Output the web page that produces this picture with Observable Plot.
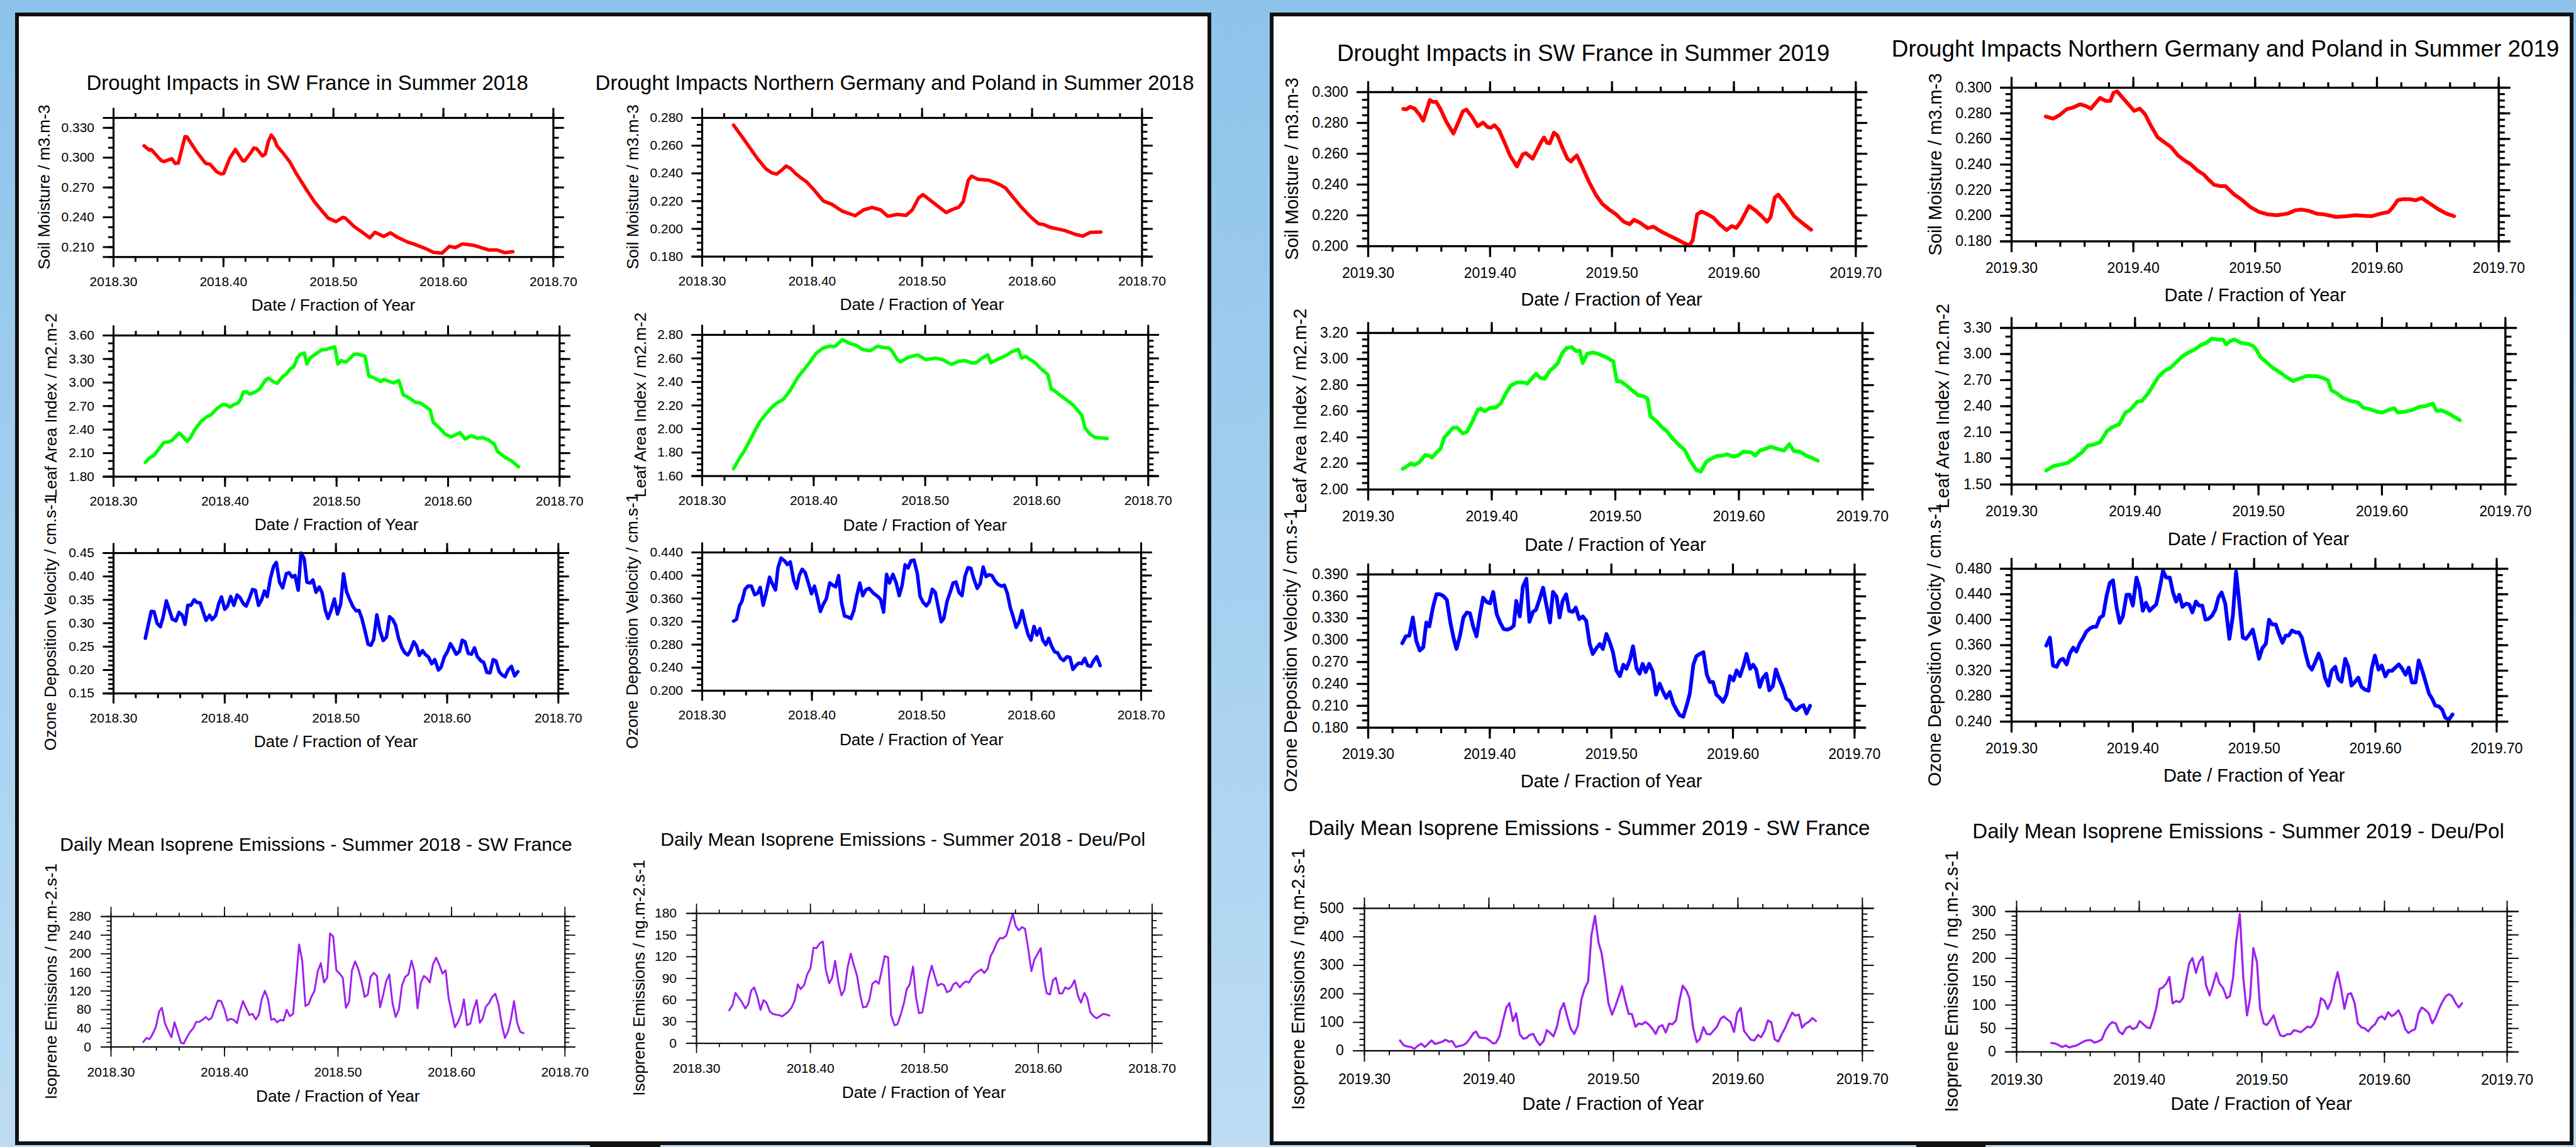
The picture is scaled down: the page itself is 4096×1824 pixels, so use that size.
<!DOCTYPE html>
<html><head><meta charset="utf-8">
<script src="https://cdn.jsdelivr.net/npm/d3@7"></script>
<script src="https://cdn.jsdelivr.net/npm/@observablehq/plot@0.6"></script>
<style>
html,body{margin:0;padding:0;}
body{width:4096px;height:1824px;position:relative;overflow:hidden;background:linear-gradient(#8dc3ea,#bddcf4);font-family:"Liberation Sans",Arial,sans-serif;}
.box{position:absolute;box-sizing:border-box;background:#fff;border:6.6px solid #111;}
.bar{position:absolute;background:#111;}
#overlay{position:absolute;left:0;top:0;}
</style></head><body>
<div id="root"></div>
<script>
// ---------------- DATA (fraction of year, value) ----------------
const soilFrance2018 = [[0.3278,0.3119],[0.3325,0.3076],[0.3343,0.3082],[0.3434,0.2970],[0.3459,0.2961],[0.3531,0.2989],[0.3560,0.2942],[0.3589,0.2946],[0.3650,0.3212],[0.3668,0.3209],[0.3759,0.3054],[0.3838,0.2942],[0.3878,0.2933],[0.3939,0.2858],[0.3976,0.2836],[0.4001,0.2840],[0.4059,0.2998],[0.4109,0.3082],[0.4174,0.2970],[0.4192,0.2967],[0.4239,0.3035],[0.4276,0.3097],[0.4301,0.3091],[0.4355,0.3017],[0.4380,0.3035],[0.4409,0.3166],[0.4434,0.3227],[0.4463,0.3185],[0.4488,0.3116],[0.4536,0.3054],[0.4601,0.2961],[0.4662,0.2840],[0.4752,0.2682],[0.4825,0.2560],[0.4879,0.2486],[0.4951,0.2393],[0.5023,0.2356],[0.5085,0.2399],[0.5107,0.2393],[0.5186,0.2309],[0.5258,0.2253],[0.5331,0.2193],[0.5378,0.2249],[0.5457,0.2207],[0.5519,0.2244],[0.5584,0.2197],[0.5674,0.2151],[0.5729,0.2132],[0.5837,0.2085],[0.5909,0.2048],[0.5988,0.2039],[0.6054,0.2108],[0.6108,0.2095],[0.6173,0.2132],[0.6271,0.2119],[0.6415,0.2071],[0.6487,0.2071],[0.6559,0.2044],[0.6632,0.2054]];
const soilGermany2018 = [[0.3285,0.2748],[0.3351,0.2677],[0.3428,0.2591],[0.3505,0.2504],[0.3582,0.2431],[0.3632,0.2404],[0.3678,0.2395],[0.3724,0.2424],[0.3763,0.2453],[0.3802,0.2437],[0.3852,0.2397],[0.3909,0.2361],[0.3948,0.2340],[0.4006,0.2291],[0.4102,0.2201],[0.4179,0.2177],[0.4276,0.2127],[0.4391,0.2095],[0.4468,0.2137],[0.4545,0.2155],[0.4622,0.2137],[0.4688,0.2091],[0.4776,0.2104],[0.4854,0.2097],[0.4911,0.2137],[0.4969,0.2224],[0.5008,0.2247],[0.5066,0.2211],[0.5143,0.2164],[0.5220,0.2117],[0.5266,0.2137],[0.5335,0.2157],[0.5374,0.2197],[0.5420,0.2351],[0.5451,0.2380],[0.5509,0.2357],[0.5605,0.2351],[0.5701,0.2321],[0.5759,0.2295],[0.5894,0.2164],[0.5990,0.2084],[0.6060,0.2037],[0.6106,0.2031],[0.6164,0.2011],[0.6299,0.1988],[0.6395,0.1960],[0.6461,0.1948],[0.6530,0.1975],[0.6626,0.1977]];
const laiFrance2018 = [[0.3285,1.981],[0.3321,2.038],[0.3363,2.072],[0.3410,2.159],[0.3452,2.237],[0.3488,2.241],[0.3524,2.261],[0.3552,2.306],[0.3588,2.356],[0.3616,2.322],[0.3659,2.251],[0.3687,2.291],[0.3730,2.403],[0.3784,2.504],[0.3837,2.565],[0.3873,2.586],[0.3926,2.667],[0.3980,2.723],[0.4008,2.717],[0.4044,2.687],[0.4086,2.723],[0.4115,2.738],[0.4140,2.788],[0.4165,2.880],[0.4193,2.880],[0.4222,2.853],[0.4265,2.876],[0.4307,2.914],[0.4364,3.032],[0.4389,3.056],[0.4443,3.001],[0.4468,2.991],[0.4514,3.072],[0.4549,3.109],[0.4585,3.174],[0.4614,3.198],[0.4649,3.316],[0.4674,3.357],[0.4710,3.377],[0.4735,3.235],[0.4763,3.316],[0.4817,3.367],[0.4863,3.413],[0.4906,3.421],[0.4948,3.442],[0.4984,3.454],[0.5012,3.235],[0.5041,3.281],[0.5084,3.261],[0.5119,3.306],[0.5155,3.361],[0.5191,3.363],[0.5255,3.336],[0.5290,3.083],[0.5333,3.062],[0.5397,3.012],[0.5422,3.040],[0.5458,3.022],[0.5511,2.995],[0.5558,3.026],[0.5600,2.839],[0.5636,2.819],[0.5707,2.748],[0.5753,2.738],[0.5796,2.697],[0.5839,2.650],[0.5867,2.494],[0.5921,2.423],[0.5974,2.342],[0.6028,2.306],[0.6064,2.332],[0.6106,2.362],[0.6153,2.281],[0.6206,2.322],[0.6260,2.291],[0.6313,2.297],[0.6359,2.271],[0.6413,2.216],[0.6445,2.119],[0.6509,2.048],[0.6562,2.007],[0.6633,1.926]];
const laiGermany2018 = [[0.3281,1.662],[0.3334,1.751],[0.3372,1.805],[0.3441,1.927],[0.3517,2.062],[0.3562,2.116],[0.3623,2.184],[0.3669,2.219],[0.3726,2.251],[0.3783,2.319],[0.3858,2.440],[0.3916,2.508],[0.3972,2.576],[0.4022,2.643],[0.4086,2.689],[0.4143,2.703],[0.4193,2.703],[0.4257,2.759],[0.4333,2.724],[0.4383,2.711],[0.4436,2.676],[0.4504,2.665],[0.4573,2.703],[0.4626,2.692],[0.4675,2.689],[0.4702,2.662],[0.4751,2.589],[0.4778,2.570],[0.4846,2.608],[0.4930,2.630],[0.5006,2.589],[0.5093,2.603],[0.5158,2.589],[0.5234,2.549],[0.5302,2.576],[0.5359,2.581],[0.5416,2.562],[0.5454,2.562],[0.5511,2.603],[0.5561,2.630],[0.5587,2.562],[0.5644,2.589],[0.5720,2.622],[0.5777,2.657],[0.5834,2.676],[0.5864,2.603],[0.5902,2.616],[0.5986,2.562],[0.6043,2.508],[0.6100,2.462],[0.6131,2.338],[0.6157,2.327],[0.6214,2.284],[0.6328,2.203],[0.6404,2.116],[0.6434,2.008],[0.6480,1.954],[0.6525,1.927],[0.6632,1.919]];
const ozoneFrance2018 = [[0.3286,0.2678],[0.3339,0.3254],[0.3364,0.3248],[0.3393,0.2993],[0.3421,0.2925],[0.3446,0.3129],[0.3475,0.3478],[0.3500,0.3299],[0.3529,0.3085],[0.3561,0.3051],[0.3589,0.3231],[0.3618,0.3173],[0.3643,0.2976],[0.3668,0.3383],[0.3696,0.3383],[0.3725,0.3502],[0.3750,0.3444],[0.3779,0.3434],[0.3832,0.3061],[0.3864,0.3173],[0.3886,0.3078],[0.3918,0.3163],[0.3946,0.3417],[0.3971,0.3563],[0.4000,0.3299],[0.4025,0.3366],[0.4054,0.3570],[0.4082,0.3383],[0.4111,0.3604],[0.4136,0.3553],[0.4168,0.3417],[0.4193,0.3366],[0.4225,0.3553],[0.4250,0.3723],[0.4275,0.3706],[0.4304,0.3383],[0.4332,0.3502],[0.4357,0.3689],[0.4382,0.3570],[0.4411,0.3960],[0.4439,0.4215],[0.4464,0.4300],[0.4493,0.3876],[0.4521,0.3757],[0.4554,0.4062],[0.4579,0.4079],[0.4607,0.3987],[0.4632,0.4021],[0.4661,0.3706],[0.4686,0.4500],[0.4714,0.4385],[0.4739,0.3876],[0.4768,0.3859],[0.4793,0.3926],[0.4821,0.3662],[0.4850,0.3774],[0.4875,0.3655],[0.4904,0.3282],[0.4929,0.3105],[0.4957,0.3282],[0.4986,0.3519],[0.5014,0.3197],[0.5043,0.3417],[0.5068,0.4055],[0.5096,0.3672],[0.5125,0.3502],[0.5154,0.3349],[0.5182,0.3265],[0.5207,0.3275],[0.5232,0.3112],[0.5261,0.2840],[0.5289,0.2552],[0.5314,0.2528],[0.5339,0.2654],[0.5368,0.3180],[0.5396,0.2840],[0.5425,0.2630],[0.5454,0.2705],[0.5482,0.3139],[0.5511,0.3078],[0.5536,0.2959],[0.5564,0.2671],[0.5593,0.2474],[0.5621,0.2365],[0.5646,0.2324],[0.5671,0.2416],[0.5700,0.2603],[0.5725,0.2518],[0.5750,0.2314],[0.5779,0.2416],[0.5804,0.2331],[0.5832,0.2280],[0.5861,0.2134],[0.5889,0.2223],[0.5921,0.2001],[0.5946,0.2060],[0.5975,0.2280],[0.6004,0.2399],[0.6029,0.2562],[0.6054,0.2467],[0.6082,0.2338],[0.6111,0.2399],[0.6136,0.2637],[0.6161,0.2603],[0.6189,0.2358],[0.6218,0.2338],[0.6246,0.2474],[0.6271,0.2290],[0.6304,0.2195],[0.6329,0.2162],[0.6357,0.1951],[0.6386,0.1941],[0.6414,0.2223],[0.6439,0.2195],[0.6468,0.1965],[0.6496,0.1890],[0.6521,0.1856],[0.6550,0.2009],[0.6579,0.2077],[0.6607,0.1873],[0.6636,0.1965]];
const ozoneGermany2018 = [[0.3286,0.3208],[0.3313,0.3241],[0.3340,0.3473],[0.3363,0.3556],[0.3390,0.3760],[0.3417,0.3815],[0.3448,0.3815],[0.3479,0.3666],[0.3506,0.3694],[0.3529,0.3793],[0.3556,0.3484],[0.3583,0.3694],[0.3614,0.3970],[0.3641,0.3848],[0.3668,0.3749],[0.3691,0.4135],[0.3718,0.4301],[0.3749,0.4257],[0.3776,0.4190],[0.3803,0.4234],[0.3834,0.3915],[0.3861,0.3777],[0.3884,0.3997],[0.3911,0.4108],[0.3938,0.4052],[0.3969,0.3859],[0.3996,0.3683],[0.4023,0.3815],[0.4050,0.3611],[0.4077,0.3374],[0.4104,0.3501],[0.4131,0.3595],[0.4162,0.3870],[0.4189,0.3832],[0.4216,0.3804],[0.4243,0.3997],[0.4270,0.3528],[0.4297,0.3297],[0.4328,0.3280],[0.4355,0.3252],[0.4382,0.3390],[0.4409,0.3650],[0.4436,0.3870],[0.4463,0.3650],[0.4490,0.3749],[0.4521,0.3777],[0.4560,0.3694],[0.4598,0.3639],[0.4626,0.3584],[0.4653,0.3363],[0.4680,0.4021],[0.4707,0.3870],[0.4738,0.4021],[0.4768,0.3870],[0.4795,0.3650],[0.4822,0.3832],[0.4849,0.4186],[0.4876,0.4131],[0.4903,0.4257],[0.4930,0.4268],[0.4961,0.4025],[0.4985,0.3639],[0.5015,0.3528],[0.5042,0.3473],[0.5069,0.3539],[0.5097,0.3760],[0.5124,0.3705],[0.5151,0.3446],[0.5178,0.3197],[0.5201,0.3252],[0.5232,0.3556],[0.5259,0.3705],[0.5286,0.3870],[0.5313,0.3887],[0.5340,0.3705],[0.5367,0.3650],[0.5394,0.3981],[0.5421,0.4135],[0.5448,0.4124],[0.5475,0.3942],[0.5506,0.3777],[0.5533,0.3859],[0.5560,0.4146],[0.5587,0.3981],[0.5614,0.4014],[0.5641,0.3997],[0.5668,0.3904],[0.5695,0.3848],[0.5726,0.3815],[0.5753,0.3832],[0.5780,0.3694],[0.5807,0.3446],[0.5834,0.3280],[0.5861,0.3098],[0.5888,0.3197],[0.5915,0.3390],[0.5942,0.3170],[0.5969,0.2977],[0.5996,0.2877],[0.6023,0.3115],[0.6050,0.2966],[0.6077,0.3076],[0.6104,0.2877],[0.6131,0.2800],[0.6158,0.2910],[0.6185,0.2767],[0.6212,0.2673],[0.6239,0.2657],[0.6266,0.2563],[0.6293,0.2524],[0.6324,0.2590],[0.6351,0.2579],[0.6378,0.2370],[0.6405,0.2436],[0.6432,0.2480],[0.6459,0.2469],[0.6486,0.2563],[0.6513,0.2436],[0.6541,0.2425],[0.6568,0.2524],[0.6595,0.2590],[0.6626,0.2436]];
const isopreneFrance2018 = [[0.3284,10.4],[0.3312,19.2],[0.3340,16.6],[0.3368,28.0],[0.3396,43.6],[0.3424,76.2],[0.3448,84.0],[0.3476,50.3],[0.3504,34.7],[0.3532,20.7],[0.3560,52.9],[0.3588,31.1],[0.3616,8.8],[0.3641,7.3],[0.3669,20.7],[0.3697,32.1],[0.3725,39.9],[0.3750,53.9],[0.3778,53.9],[0.3806,58.1],[0.3834,64.3],[0.3862,58.1],[0.3886,62.2],[0.3914,81.4],[0.3942,99.6],[0.3970,98.5],[0.3998,81.4],[0.4026,56.5],[0.4054,60.7],[0.4082,58.1],[0.4110,51.3],[0.4135,76.2],[0.4163,98.5],[0.4191,83.0],[0.4219,68.4],[0.4247,71.0],[0.4275,59.1],[0.4303,69.5],[0.4328,102.1],[0.4356,120.3],[0.4384,102.1],[0.4412,58.1],[0.4436,60.7],[0.4464,52.9],[0.4492,58.1],[0.4520,56.5],[0.4548,79.8],[0.4576,65.9],[0.4604,71.0],[0.4632,146.2],[0.4657,219.8],[0.4685,185.1],[0.4713,88.1],[0.4741,91.8],[0.4765,107.3],[0.4793,120.3],[0.4821,161.8],[0.4849,179.9],[0.4877,138.4],[0.4905,148.8],[0.4930,243.7],[0.4958,237.0],[0.4986,164.4],[0.5014,157.6],[0.5042,148.8],[0.5070,84.0],[0.5098,97.0],[0.5123,164.4],[0.5151,183.5],[0.5179,167.0],[0.5207,141.0],[0.5235,107.3],[0.5263,112.5],[0.5287,150.4],[0.5315,159.2],[0.5343,152.4],[0.5371,85.0],[0.5399,112.5],[0.5424,141.0],[0.5452,155.6],[0.5480,94.4],[0.5508,64.3],[0.5536,79.8],[0.5564,131.7],[0.5592,150.4],[0.5620,155.6],[0.5648,185.1],[0.5673,162.8],[0.5701,83.0],[0.5729,136.9],[0.5757,152.4],[0.5785,147.3],[0.5809,138.4],[0.5837,177.3],[0.5865,191.8],[0.5893,176.3],[0.5921,157.6],[0.5949,164.4],[0.5974,105.8],[0.6002,73.6],[0.6030,42.5],[0.6058,53.9],[0.6086,71.0],[0.6110,102.1],[0.6138,46.7],[0.6166,50.3],[0.6194,79.8],[0.6222,100.6],[0.6250,51.9],[0.6275,60.7],[0.6303,86.6],[0.6331,94.4],[0.6359,107.3],[0.6387,114.1],[0.6415,90.2],[0.6443,48.7],[0.6471,19.2],[0.6499,33.2],[0.6523,58.1],[0.6551,98.5],[0.6579,51.9],[0.6607,32.1],[0.6635,29.6]];
const isopreneGermany2018 = [[0.3287,45.8],[0.3316,53.1],[0.3342,69.8],[0.3372,63.1],[0.3398,57.4],[0.3428,48.4],[0.3454,54.1],[0.3480,73.1],[0.3506,77.5],[0.3532,65.8],[0.3562,46.4],[0.3588,59.8],[0.3614,56.4],[0.3644,44.1],[0.3670,40.7],[0.3700,39.7],[0.3726,39.1],[0.3752,37.4],[0.3781,40.7],[0.3807,44.1],[0.3833,49.1],[0.3863,59.8],[0.3889,81.8],[0.3915,75.2],[0.3945,80.8],[0.3971,95.2],[0.4001,104.2],[0.4027,132.6],[0.4053,131.9],[0.4083,138.6],[0.4109,141.0],[0.4135,101.9],[0.4165,83.2],[0.4191,90.8],[0.4217,114.2],[0.4247,83.2],[0.4273,66.5],[0.4299,74.1],[0.4328,106.5],[0.4354,124.2],[0.4380,109.2],[0.4410,93.2],[0.4436,67.5],[0.4462,49.8],[0.4492,50.8],[0.4518,60.8],[0.4544,82.5],[0.4574,86.5],[0.4600,82.5],[0.4626,100.9],[0.4652,120.9],[0.4682,119.2],[0.4708,39.1],[0.4738,25.1],[0.4764,26.4],[0.4790,38.4],[0.4820,55.1],[0.4846,75.2],[0.4872,81.8],[0.4901,106.5],[0.4927,64.1],[0.4953,41.8],[0.4983,43.1],[0.5009,65.8],[0.5035,89.2],[0.5065,107.5],[0.5091,93.2],[0.5117,79.8],[0.5147,82.5],[0.5173,80.8],[0.5199,70.8],[0.5229,73.1],[0.5255,81.8],[0.5281,84.2],[0.5311,77.5],[0.5337,82.5],[0.5363,85.8],[0.5393,84.2],[0.5419,91.9],[0.5445,96.5],[0.5474,99.9],[0.5500,102.5],[0.5526,97.5],[0.5556,103.2],[0.5582,120.9],[0.5608,128.6],[0.5638,139.9],[0.5664,146.0],[0.5690,145.3],[0.5720,149.3],[0.5746,163.3],[0.5776,179.4],[0.5802,162.7],[0.5828,156.6],[0.5858,161.0],[0.5884,158.7],[0.5910,133.3],[0.5940,99.9],[0.5966,115.9],[0.5992,123.2],[0.6022,131.9],[0.6048,92.5],[0.6074,69.8],[0.6103,67.5],[0.6129,87.5],[0.6155,90.8],[0.6185,69.1],[0.6211,69.1],[0.6237,77.5],[0.6267,75.2],[0.6293,79.2],[0.6319,87.5],[0.6349,65.8],[0.6375,56.4],[0.6405,69.8],[0.6431,62.5],[0.6457,43.1],[0.6487,37.4],[0.6513,34.7],[0.6539,37.4],[0.6569,40.7],[0.6595,40.1],[0.6625,38.4]];
const soilFrance2019 = [[0.3288,0.2891],[0.3314,0.2889],[0.3344,0.2905],[0.3381,0.2893],[0.3418,0.2857],[0.3451,0.2815],[0.3481,0.2887],[0.3506,0.2949],[0.3529,0.2937],[0.3558,0.2937],[0.3591,0.2893],[0.3640,0.2809],[0.3699,0.2731],[0.3739,0.2803],[0.3776,0.2875],[0.3806,0.2887],[0.3850,0.2841],[0.3898,0.2779],[0.3943,0.2803],[0.3980,0.2773],[0.4006,0.2769],[0.4035,0.2785],[0.4072,0.2755],[0.4120,0.2670],[0.4165,0.2586],[0.4220,0.2518],[0.4268,0.2596],[0.4294,0.2604],[0.4349,0.2568],[0.4416,0.2673],[0.4442,0.2706],[0.4468,0.2670],[0.4490,0.2668],[0.4523,0.2737],[0.4553,0.2718],[0.4590,0.2646],[0.4634,0.2568],[0.4664,0.2550],[0.4690,0.2574],[0.4712,0.2589],[0.4756,0.2514],[0.4811,0.2418],[0.4867,0.2334],[0.4922,0.2273],[0.4978,0.2237],[0.5033,0.2207],[0.5096,0.2159],[0.5144,0.2143],[0.5181,0.2171],[0.5229,0.2153],[0.5292,0.2117],[0.5340,0.2127],[0.5403,0.2095],[0.5477,0.2066],[0.5532,0.2045],[0.5588,0.2021],[0.5636,0.2006],[0.5662,0.2039],[0.5699,0.2207],[0.5736,0.2225],[0.5791,0.2204],[0.5835,0.2183],[0.5884,0.2141],[0.5939,0.2105],[0.5983,0.2131],[0.6020,0.2119],[0.6057,0.2159],[0.6124,0.2261],[0.6179,0.2231],[0.6227,0.2195],[0.6272,0.2159],[0.6301,0.2189],[0.6335,0.2316],[0.6364,0.2334],[0.6420,0.2279],[0.6494,0.2195],[0.6567,0.2147],[0.6634,0.2107]];
const soilGermany2019 = [[0.3281,0.2775],[0.3341,0.2759],[0.3393,0.2785],[0.3452,0.2832],[0.3504,0.2845],[0.3563,0.2871],[0.3607,0.2858],[0.3652,0.2837],[0.3681,0.2871],[0.3726,0.2920],[0.3774,0.2897],[0.3811,0.2897],[0.3837,0.2961],[0.3867,0.2972],[0.3904,0.2930],[0.3959,0.2871],[0.4007,0.2819],[0.4052,0.2837],[0.4096,0.2793],[0.4144,0.2703],[0.4200,0.2612],[0.4256,0.2573],[0.4311,0.2535],[0.4367,0.2470],[0.4422,0.2431],[0.4467,0.2405],[0.4526,0.2354],[0.4578,0.2322],[0.4615,0.2284],[0.4663,0.2242],[0.4711,0.2232],[0.4756,0.2232],[0.4793,0.2198],[0.4830,0.2165],[0.4885,0.2129],[0.4959,0.2069],[0.5033,0.2030],[0.5107,0.2010],[0.5181,0.2004],[0.5267,0.2017],[0.5330,0.2043],[0.5385,0.2048],[0.5441,0.2038],[0.5504,0.2017],[0.5570,0.2010],[0.5663,0.1991],[0.5756,0.1997],[0.5822,0.2004],[0.5896,0.1999],[0.5959,0.1997],[0.6033,0.2017],[0.6096,0.2030],[0.6126,0.2061],[0.6170,0.2121],[0.6207,0.2129],[0.6274,0.2129],[0.6319,0.2121],[0.6367,0.2139],[0.6422,0.2103],[0.6504,0.2051],[0.6570,0.2017],[0.6633,0.1997]];
const laiFrance2019 = [[0.3279,2.158],[0.3311,2.176],[0.3347,2.201],[0.3375,2.188],[0.3410,2.206],[0.3463,2.265],[0.3499,2.257],[0.3516,2.244],[0.3552,2.282],[0.3587,2.315],[0.3615,2.399],[0.3651,2.435],[0.3686,2.473],[0.3722,2.473],[0.3764,2.430],[0.3799,2.442],[0.3842,2.519],[0.3888,2.613],[0.3912,2.620],[0.3941,2.600],[0.3994,2.628],[0.4029,2.626],[0.4072,2.659],[0.4110,2.730],[0.4153,2.798],[0.4206,2.821],[0.4259,2.821],[0.4287,2.811],[0.4323,2.849],[0.4358,2.887],[0.4393,2.857],[0.4429,2.849],[0.4471,2.913],[0.4499,2.933],[0.4535,2.969],[0.4570,3.045],[0.4606,3.086],[0.4648,3.091],[0.4683,3.060],[0.4712,3.065],[0.4736,2.969],[0.4772,3.040],[0.4818,3.050],[0.4860,3.040],[0.4913,3.020],[0.4949,3.002],[0.4984,2.981],[0.5012,2.831],[0.5044,2.829],[0.5090,2.798],[0.5143,2.755],[0.5186,2.722],[0.5232,2.714],[0.5260,2.697],[0.5285,2.562],[0.5338,2.519],[0.5373,2.481],[0.5416,2.448],[0.5462,2.392],[0.5525,2.333],[0.5561,2.303],[0.5603,2.226],[0.5656,2.150],[0.5692,2.137],[0.5737,2.214],[0.5773,2.234],[0.5822,2.257],[0.5868,2.260],[0.5904,2.270],[0.5957,2.252],[0.5992,2.260],[0.6035,2.290],[0.6098,2.285],[0.6134,2.260],[0.6169,2.298],[0.6222,2.315],[0.6257,2.328],[0.6318,2.310],[0.6364,2.298],[0.6409,2.348],[0.6445,2.295],[0.6494,2.290],[0.6551,2.257],[0.6600,2.239],[0.6639,2.221]];
const laiGermany2019 = [[0.3281,1.660],[0.3336,1.710],[0.3398,1.729],[0.3453,1.748],[0.3508,1.801],[0.3570,1.870],[0.3617,1.946],[0.3661,1.957],[0.3716,1.984],[0.3774,2.118],[0.3811,2.156],[0.3873,2.194],[0.3921,2.327],[0.3957,2.354],[0.4019,2.453],[0.4056,2.461],[0.4111,2.556],[0.4184,2.728],[0.4238,2.804],[0.4286,2.842],[0.4330,2.900],[0.4384,2.976],[0.4439,3.022],[0.4483,3.052],[0.4531,3.102],[0.4578,3.128],[0.4622,3.178],[0.4666,3.167],[0.4713,3.167],[0.4739,3.109],[0.4768,3.147],[0.4805,3.167],[0.4859,3.128],[0.4914,3.117],[0.4958,3.090],[0.4987,3.041],[0.5016,2.964],[0.5060,2.911],[0.5115,2.842],[0.5170,2.793],[0.5225,2.736],[0.5279,2.690],[0.5334,2.720],[0.5389,2.747],[0.5462,2.747],[0.5517,2.728],[0.5564,2.697],[0.5590,2.583],[0.5626,2.556],[0.5689,2.491],[0.5747,2.461],[0.5809,2.442],[0.5846,2.385],[0.5901,2.366],[0.5955,2.339],[0.6003,2.327],[0.6047,2.354],[0.6101,2.377],[0.6127,2.327],[0.6193,2.339],[0.6248,2.358],[0.6303,2.392],[0.6358,2.404],[0.6412,2.430],[0.6442,2.346],[0.6478,2.354],[0.6540,2.316],[0.6595,2.270],[0.6631,2.240]];
const ozoneFrance2019 = [[0.3280,0.2957],[0.3309,0.3052],[0.3338,0.3061],[0.3367,0.3310],[0.3395,0.2993],[0.3424,0.2857],[0.3453,0.2902],[0.3478,0.3242],[0.3503,0.3188],[0.3532,0.3446],[0.3561,0.3628],[0.3589,0.3628],[0.3618,0.3605],[0.3647,0.3551],[0.3676,0.3242],[0.3704,0.3016],[0.3726,0.2879],[0.3755,0.3061],[0.3783,0.3310],[0.3812,0.3378],[0.3837,0.3369],[0.3863,0.3188],[0.3891,0.3052],[0.3920,0.3356],[0.3945,0.3582],[0.3974,0.3524],[0.4003,0.3505],[0.4028,0.3660],[0.4057,0.3356],[0.4085,0.3242],[0.4114,0.3152],[0.4143,0.3143],[0.4172,0.3161],[0.4197,0.3197],[0.4218,0.3537],[0.4247,0.3324],[0.4272,0.3732],[0.4301,0.3841],[0.4326,0.3251],[0.4355,0.3387],[0.4380,0.3415],[0.4409,0.3560],[0.4438,0.3719],[0.4466,0.3478],[0.4495,0.3242],[0.4520,0.3660],[0.4549,0.3596],[0.4574,0.3310],[0.4599,0.3537],[0.4628,0.3628],[0.4653,0.3401],[0.4682,0.3387],[0.4707,0.3446],[0.4736,0.3288],[0.4765,0.3324],[0.4793,0.3265],[0.4822,0.2947],[0.4847,0.2811],[0.4876,0.2888],[0.4905,0.2947],[0.4930,0.2879],[0.4959,0.3084],[0.4987,0.2970],[0.5013,0.2834],[0.5041,0.2585],[0.5070,0.2507],[0.5099,0.2662],[0.5124,0.2607],[0.5153,0.2734],[0.5178,0.2916],[0.5207,0.2616],[0.5232,0.2539],[0.5257,0.2675],[0.5282,0.2562],[0.5311,0.2675],[0.5340,0.2571],[0.5368,0.2253],[0.5397,0.2403],[0.5426,0.2289],[0.5451,0.2208],[0.5480,0.2289],[0.5509,0.2131],[0.5537,0.2040],[0.5562,0.1972],[0.5591,0.1950],[0.5620,0.2108],[0.5645,0.2267],[0.5674,0.2662],[0.5699,0.2780],[0.5728,0.2811],[0.5757,0.2834],[0.5785,0.2526],[0.5810,0.2426],[0.5836,0.2426],[0.5864,0.2253],[0.5893,0.2208],[0.5918,0.2154],[0.5947,0.2253],[0.5976,0.2507],[0.6004,0.2448],[0.6030,0.2585],[0.6058,0.2507],[0.6087,0.2653],[0.6112,0.2811],[0.6141,0.2607],[0.6166,0.2662],[0.6191,0.2598],[0.6220,0.2358],[0.6245,0.2480],[0.6274,0.2539],[0.6299,0.2312],[0.6328,0.2371],[0.6353,0.2598],[0.6382,0.2462],[0.6411,0.2344],[0.6439,0.2199],[0.6468,0.2163],[0.6497,0.2063],[0.6522,0.2040],[0.6551,0.2086],[0.6580,0.2108],[0.6605,0.1995],[0.6634,0.2099]];
const ozoneGermany2019 = [[0.3286,0.3594],[0.3316,0.3719],[0.3342,0.3280],[0.3372,0.3261],[0.3398,0.3361],[0.3424,0.3386],[0.3454,0.3298],[0.3480,0.3468],[0.3509,0.3562],[0.3535,0.3499],[0.3561,0.3625],[0.3591,0.3719],[0.3617,0.3814],[0.3647,0.3864],[0.3673,0.3889],[0.3699,0.3889],[0.3729,0.4033],[0.3755,0.4065],[0.3784,0.4379],[0.3810,0.4580],[0.3836,0.4618],[0.3866,0.4191],[0.3892,0.3952],[0.3918,0.4052],[0.3948,0.4392],[0.3974,0.4392],[0.4000,0.4222],[0.4030,0.4662],[0.4056,0.4492],[0.4082,0.4140],[0.4108,0.4266],[0.4138,0.4140],[0.4164,0.4191],[0.4193,0.4241],[0.4219,0.4473],[0.4249,0.4769],[0.4275,0.4662],[0.4305,0.4662],[0.4331,0.4429],[0.4357,0.4285],[0.4383,0.4392],[0.4409,0.4203],[0.4439,0.4253],[0.4465,0.4241],[0.4491,0.4115],[0.4520,0.4285],[0.4546,0.4222],[0.4572,0.4222],[0.4599,0.4002],[0.4625,0.4015],[0.4654,0.4065],[0.4680,0.4159],[0.4706,0.4348],[0.4732,0.4429],[0.4762,0.4253],[0.4796,0.3700],[0.4825,0.4065],[0.4851,0.4756],[0.4877,0.4285],[0.4907,0.3719],[0.4933,0.3700],[0.4959,0.3763],[0.4989,0.3845],[0.5015,0.3625],[0.5041,0.3386],[0.5067,0.3550],[0.5097,0.3625],[0.5123,0.4001],[0.5149,0.3927],[0.5178,0.3927],[0.5204,0.3782],[0.5234,0.3638],[0.5260,0.3751],[0.5286,0.3751],[0.5312,0.3832],[0.5342,0.3801],[0.5368,0.3801],[0.5394,0.3719],[0.5424,0.3468],[0.5450,0.3280],[0.5476,0.3217],[0.5506,0.3342],[0.5532,0.3468],[0.5558,0.3342],[0.5584,0.3091],[0.5613,0.2965],[0.5639,0.3198],[0.5669,0.3261],[0.5695,0.3072],[0.5721,0.3028],[0.5751,0.3386],[0.5777,0.3261],[0.5803,0.2965],[0.5833,0.3028],[0.5859,0.3091],[0.5885,0.2947],[0.5914,0.2903],[0.5944,0.2884],[0.5970,0.3236],[0.5996,0.3437],[0.6026,0.3217],[0.6052,0.3280],[0.6082,0.3110],[0.6108,0.3198],[0.6138,0.3198],[0.6164,0.3248],[0.6193,0.3298],[0.6219,0.3236],[0.6249,0.3135],[0.6275,0.3248],[0.6301,0.3016],[0.6331,0.3016],[0.6357,0.3361],[0.6387,0.3198],[0.6413,0.3028],[0.6442,0.2840],[0.6468,0.2758],[0.6494,0.2651],[0.6524,0.2639],[0.6550,0.2588],[0.6576,0.2463],[0.6606,0.2431],[0.6636,0.2513]];
const isopreneFrance2019 = [[0.3286,36.4],[0.3315,19.5],[0.3344,15.2],[0.3373,13.5],[0.3401,6.8],[0.3427,16.9],[0.3456,25.4],[0.3485,13.5],[0.3510,23.7],[0.3539,36.4],[0.3568,23.7],[0.3597,27.9],[0.3626,32.1],[0.3651,38.9],[0.3680,32.1],[0.3705,33.8],[0.3734,13.5],[0.3763,16.9],[0.3792,19.5],[0.3821,27.9],[0.3846,42.3],[0.3875,61.8],[0.3897,67.7],[0.3922,47.4],[0.3951,44.8],[0.3976,44.8],[0.4005,36.4],[0.4034,25.4],[0.4056,27.9],[0.4085,50.8],[0.4110,99.8],[0.4139,150.6],[0.4165,167.5],[0.4193,104.1],[0.4219,132.0],[0.4248,57.5],[0.4277,42.3],[0.4302,44.8],[0.4327,55.8],[0.4356,59.2],[0.4382,36.4],[0.4410,19.5],[0.4439,33.8],[0.4465,72.8],[0.4494,61.8],[0.4519,50.8],[0.4548,87.1],[0.4573,142.1],[0.4602,167.5],[0.4627,123.5],[0.4656,78.7],[0.4685,59.2],[0.4714,87.1],[0.4743,180.2],[0.4769,218.3],[0.4797,243.6],[0.4823,404.4],[0.4852,473.8],[0.4881,379.0],[0.4906,340.9],[0.4935,252.1],[0.4960,167.5],[0.4989,126.9],[0.5018,159.0],[0.5043,191.2],[0.5069,226.7],[0.5094,177.7],[0.5123,129.4],[0.5148,129.4],[0.5177,84.6],[0.5203,95.6],[0.5231,93.1],[0.5257,101.5],[0.5286,91.4],[0.5311,78.7],[0.5340,59.2],[0.5365,84.6],[0.5394,89.7],[0.5420,64.3],[0.5448,95.6],[0.5474,93.1],[0.5503,106.6],[0.5532,180.2],[0.5557,228.4],[0.5586,211.5],[0.5611,184.4],[0.5640,81.2],[0.5669,30.5],[0.5694,40.6],[0.5723,82.9],[0.5749,59.2],[0.5778,57.5],[0.5803,70.2],[0.5832,84.6],[0.5861,112.5],[0.5886,121.0],[0.5915,110.0],[0.5940,101.5],[0.5969,66.0],[0.5994,132.0],[0.6023,150.6],[0.6049,70.2],[0.6078,53.3],[0.6103,38.9],[0.6132,36.4],[0.6161,55.8],[0.6186,47.4],[0.6215,70.2],[0.6241,106.6],[0.6269,99.8],[0.6295,40.6],[0.6324,32.1],[0.6353,59.2],[0.6378,78.7],[0.6407,108.3],[0.6436,133.7],[0.6461,123.5],[0.6490,126.9],[0.6515,81.2],[0.6544,95.6],[0.6570,101.5],[0.6599,115.1],[0.6627,104.1]];
const isopreneGermany2019 = [[0.3283,18.9],[0.3313,18.0],[0.3342,14.6],[0.3371,10.3],[0.3401,13.7],[0.3430,9.4],[0.3460,12.0],[0.3489,13.7],[0.3518,18.0],[0.3548,22.3],[0.3577,24.9],[0.3607,24.9],[0.3636,19.7],[0.3665,22.3],[0.3695,26.6],[0.3724,45.4],[0.3754,57.4],[0.3779,63.4],[0.3809,60.8],[0.3835,43.7],[0.3864,37.7],[0.3893,50.6],[0.3923,54.8],[0.3949,48.8],[0.3978,52.3],[0.4004,66.0],[0.4033,59.1],[0.4063,52.3],[0.4088,50.6],[0.4114,69.4],[0.4140,95.1],[0.4165,134.5],[0.4195,138.0],[0.4221,146.5],[0.4246,160.3],[0.4272,103.7],[0.4301,108.8],[0.4331,106.3],[0.4357,114.8],[0.4382,153.4],[0.4408,189.4],[0.4434,200.5],[0.4463,168.8],[0.4489,192.0],[0.4518,203.1],[0.4544,143.1],[0.4574,120.8],[0.4599,140.5],[0.4629,168.8],[0.4654,146.5],[0.4684,136.3],[0.4713,114.8],[0.4739,119.1],[0.4765,157.7],[0.4790,234.8],[0.4820,294.8],[0.4849,157.7],[0.4879,78.0],[0.4904,114.8],[0.4930,222.0],[0.4960,192.0],[0.4985,93.4],[0.5015,60.8],[0.5040,57.4],[0.5070,67.7],[0.5096,78.0],[0.5125,52.3],[0.5151,35.1],[0.5180,33.4],[0.5206,37.7],[0.5235,37.7],[0.5261,46.3],[0.5290,44.6],[0.5316,42.0],[0.5346,48.0],[0.5371,54.0],[0.5401,52.3],[0.5426,60.8],[0.5456,78.0],[0.5482,114.8],[0.5511,108.8],[0.5537,91.7],[0.5566,108.8],[0.5592,144.8],[0.5618,170.5],[0.5647,134.5],[0.5673,91.7],[0.5702,123.4],[0.5728,125.1],[0.5757,103.7],[0.5783,60.8],[0.5813,52.3],[0.5838,50.6],[0.5868,43.7],[0.5893,52.3],[0.5923,59.1],[0.5949,72.0],[0.5978,76.3],[0.6004,69.4],[0.6029,84.8],[0.6059,76.3],[0.6085,80.6],[0.6114,89.1],[0.6140,74.6],[0.6169,48.8],[0.6195,40.3],[0.6224,45.4],[0.6250,48.8],[0.6279,83.1],[0.6305,95.1],[0.6335,89.1],[0.6360,83.1],[0.6390,60.8],[0.6415,72.0],[0.6445,91.7],[0.6471,106.3],[0.6500,119.1],[0.6526,123.4],[0.6551,119.1],[0.6581,103.7],[0.6607,95.1],[0.6632,103.7]];

// ---------------- TICK VALUES ----------------
const xTickFractions = [0.30, 0.40, 0.50, 0.60, 0.70];
const ticksSoilFr18 = [0.210, 0.240, 0.270, 0.300, 0.330];
const ticksLaiFr18 = [1.80, 2.10, 2.40, 2.70, 3.00, 3.30, 3.60];
const ticksOzoneFr18 = [0.15, 0.20, 0.25, 0.30, 0.35, 0.40, 0.45];
const ticksIsoFr18 = [0, 40, 80, 120, 160, 200, 240, 280];
const ticksSoilDe18 = [0.180, 0.200, 0.220, 0.240, 0.260, 0.280];
const ticksLaiDe18 = [1.60, 1.80, 2.00, 2.20, 2.40, 2.60, 2.80];
const ticksOzoneDe18 = [0.200, 0.240, 0.280, 0.320, 0.360, 0.400, 0.440];
const ticksIsoDe18 = [0, 30, 60, 90, 120, 150, 180];
const ticksSoilFr19 = [0.200, 0.220, 0.240, 0.260, 0.280, 0.300];
const ticksLaiFr19 = [2.00, 2.20, 2.40, 2.60, 2.80, 3.00, 3.20];
const ticksOzoneFr19 = [0.180, 0.210, 0.240, 0.270, 0.300, 0.330, 0.360, 0.390];
const ticksIsoFr19 = [0, 100, 200, 300, 400, 500];
const ticksSoilDe19 = [0.180, 0.200, 0.220, 0.240, 0.260, 0.280, 0.300];
const ticksLaiDe19 = [1.50, 1.80, 2.10, 2.40, 2.70, 3.00, 3.30];
const ticksOzoneDe19 = [0.240, 0.280, 0.320, 0.360, 0.400, 0.440, 0.480];
const ticksIsoDe19 = [0, 50, 100, 150, 200, 250, 300];

// ---------------- TEXT ----------------
const xLabelText = "Date / Fraction of Year";
const yLabels = {soil: "Soil Moisture / m3.m-3", lai: "Leaf Area Index / m2.m-2", ozone: "Ozone Deposition Velocity / cm.s-1", iso: "Isoprene Emissions / ng.m-2.s-1"};
const colors = {soil: "#ff0000", lai: "#00ff00", ozone: "#0000ff", iso: "#a020f0"};

// ---------------- LAYOUT (reference pixel units, scaled by S) ----------------
const S = 4096 / 6202;
const STYLES = {
  topL: {tickFont: 21, tmaj: 16.5, tmin: 8, xpad: 14.5, ypad: 14, sw: 3, fw: 3.2, lw: 5.5, lab: 26.2, title: 33},
  topR: {tickFont: 23, tmaj: 17.8, tmin: 9.2, xpad: 16, ypad: 14, sw: 3.2, fw: 3.4, lw: 6, lab: 29, title: 36.8},
  isoL: {tickFont: 21, tmaj: 16, tmin: 6.6, xpad: 16, ypad: 15.5, sw: 1.7, fw: 2.1, lw: 3, lab: 26.2, title: 30.1},
  isoR: {tickFont: 23, tmaj: 17.8, tmin: 7.5, xpad: 18.5, ypad: 15, sw: 1.9, fw: 2.3, lw: 3.3, lab: 29, title: 33}
};
const panels = [
  {kind:"soil", year:2018, data:soilFrance2018, rect:[273,283,1332,618], y:[0.200,0.340], ticks:ticksSoilFr18, minor:0.01, dec:3, st:"topL", ylx:105, xlb:748, title:"Drought Impacts in SW France in Summer 2018", tx:740, tb:216},
  {kind:"lai", year:2018, data:laiFrance2018, rect:[273,807,1347,1147], y:[1.80,3.60], ticks:ticksLaiFr18, minor:0.1, dec:2, st:"topL", ylx:122, xlb:1276},
  {kind:"ozone", year:2018, data:ozoneFrance2018, rect:[273,1331,1344,1669], y:[0.15,0.45], ticks:ticksOzoneFr18, minor:0.01, dec:2, st:"topL", ylx:121, xlb:1799},
  {kind:"iso", year:2018, data:isopreneFrance2018, rect:[267,2206,1360,2520], y:[0,280], ticks:ticksIsoFr18, minor:10, dec:0, st:"isoL", ylx:122, xlb:2653, title:"Daily Mean Isoprene Emissions - Summer 2018 - SW France", tx:761, tb:2049},
  {kind:"soil", year:2018, data:soilGermany2018, rect:[1690,283,2749,617], y:[0.180,0.280], ticks:ticksSoilDe18, minor:0.005, dec:3, st:"topL", ylx:1522, xlb:747, title:"Drought Impacts Northern Germany and Poland in Summer 2018", tx:2154, tb:216},
  {kind:"lai", year:2018, data:laiGermany2018, rect:[1690,805,2764,1145], y:[1.60,2.80], ticks:ticksLaiDe18, minor:0.05, dec:2, st:"topL", ylx:1541, xlb:1278},
  {kind:"ozone", year:2018, data:ozoneGermany2018, rect:[1690,1329,2747,1662], y:[0.200,0.440], ticks:ticksOzoneDe18, minor:0.01, dec:3, st:"topL", ylx:1521, xlb:1794},
  {kind:"iso", year:2018, data:isopreneGermany2018, rect:[1676,2198,2773,2511], y:[0,180], ticks:ticksIsoDe18, minor:10, dec:0, st:"isoL", ylx:1537, xlb:2644, title:"Daily Mean Isoprene Emissions - Summer 2018 - Deu/Pol", tx:2174, tb:2037},
  {kind:"soil", year:2019, data:soilFrance2019, rect:[3293,221,4467,592], y:[0.200,0.300], ticks:ticksSoilFr19, minor:0.005, dec:3, st:"topR", ylx:3109, xlb:736, title:"Drought Impacts in SW France in Summer 2019", tx:3812, tb:147},
  {kind:"lai", year:2019, data:laiFrance2019, rect:[3294,801,4484,1178], y:[2.00,3.20], ticks:ticksLaiFr19, minor:0.05, dec:2, st:"topR", ylx:3129, xlb:1326},
  {kind:"ozone", year:2019, data:ozoneFrance2019, rect:[3294,1382,4465,1751], y:[0.180,0.390], ticks:ticksOzoneFr19, minor:0.01, dec:3, st:"topR", ylx:3107, xlb:1896},
  {kind:"iso", year:2019, data:isopreneFrance2019, rect:[3284,2186,4483,2529], y:[0,500], ticks:ticksIsoFr19, minor:20, dec:0, st:"isoR", ylx:3124, xlb:2673, title:"Daily Mean Isoprene Emissions - Summer 2019 - SW France", tx:3826, tb:2011},
  {kind:"soil", year:2019, data:soilGermany2019, rect:[4843,211,6016,581], y:[0.180,0.300], ticks:ticksSoilDe19, minor:0.005, dec:3, st:"topR", ylx:4659, xlb:726, title:"Drought Impacts Northern Germany and Poland in Summer 2019", tx:5358, tb:136},
  {kind:"lai", year:2019, data:laiGermany2019, rect:[4843,789,6032,1166], y:[1.50,3.30], ticks:ticksLaiDe19, minor:0.1, dec:2, st:"topR", ylx:4676, xlb:1313},
  {kind:"ozone", year:2019, data:ozoneGermany2019, rect:[4843,1369,6011,1737], y:[0.240,0.480], ticks:ticksOzoneDe19, minor:0.01, dec:3, st:"topR", ylx:4657, xlb:1882},
  {kind:"iso", year:2019, data:isopreneGermany2019, rect:[4854,2194,6035,2532], y:[0,300], ticks:ticksIsoDe19, minor:10, dec:0, st:"isoR", ylx:4697, xlb:2672, title:"Daily Mean Isoprene Emissions - Summer 2019 - Deu/Pol", tx:5389, tb:2019}
];
const boxes = [[36,31,2917,2757],[3057,31,6196,2757]];
const bars = [[1420,2757,1590,2762],[4614,2757,4780,2762]];

// ---------------- DRAW ----------------
const root = document.getElementById("root");
for (const [l,t,r,b] of boxes) {
  const d = document.createElement("div");
  d.className = "box";
  Object.assign(d.style, {left: l*S+"px", top: t*S+"px", width: (r-l)*S+"px", height: (b-t)*S+"px"});
  root.appendChild(d);
}
for (const [l,t,r,b] of bars) {
  const d = document.createElement("div");
  d.className = "bar";
  Object.assign(d.style, {left: l*S+"px", top: t*S+"px", width: (r-l)*S+"px", height: (b-t)*S+"px"});
  root.appendChild(d);
}
function steps(lo, hi, step) {
  const n = Math.round((hi - lo) / step);
  return d3.range(n + 1).map(i => +(lo + i * step).toFixed(6));
}
const blank = () => "";
const FONT = "Liberation Sans, Arial, Helvetica, sans-serif";
let overlay = "";
for (const p of panels) {
  const st = STYLES[p.st];
  const [l, t, r, b] = p.rect.map(v => v * S);
  const W = r - l, H = b - t;
  const mL = 120, mR = 30, mT = 30, mB = 70;
  const x0 = p.year + 0.3, x1 = p.year + 0.7;
  const xMajor = xTickFractions.map(f => +(p.year + f).toFixed(4));
  const xMinor = steps(x0, x1, 0.02);
  const yMinor = steps(p.y[0], p.y[1], p.minor);
  const data = p.data.map(([f, v]) => ({x: p.year + f, y: v}));
  const c = {strokeWidth: st.sw, label: null};
  const svg = Plot.plot({
    width: W + mL + mR, height: H + mT + mB,
    marginLeft: mL, marginRight: mR, marginTop: mT, marginBottom: mB,
    x: {domain: [x0, x1], label: null},
    y: {domain: p.y, label: null},
    style: {background: "transparent", fontFamily: FONT, fontSize: st.tickFont + "px", color: "black", overflow: "visible"},
    marks: [
      Plot.axisX(xMinor, {anchor: "bottom", tickSize: st.tmin, tickFormat: blank, ...c}),
      Plot.axisX(xMinor, {anchor: "top", tickSize: st.tmin, tickFormat: blank, ...c}),
      Plot.axisX(xMajor, {anchor: "bottom", tickSize: st.tmaj, tickPadding: st.xpad, tickFormat: d => d.toFixed(2), ...c}),
      Plot.axisX(xMajor, {anchor: "top", tickSize: st.tmaj, tickFormat: blank, ...c}),
      Plot.axisY(yMinor, {anchor: "left", tickSize: st.tmin, tickFormat: blank, ...c}),
      Plot.axisY(yMinor, {anchor: "right", tickSize: st.tmin, tickFormat: blank, ...c}),
      Plot.axisY(p.ticks, {anchor: "left", tickSize: st.tmaj, tickPadding: st.ypad, tickFormat: d => d.toFixed(p.dec), ...c}),
      Plot.axisY(p.ticks, {anchor: "right", tickSize: st.tmaj, tickFormat: blank, ...c}),
      Plot.axisY(p.y, {anchor: "left", tickSize: st.tmaj, tickFormat: blank, ...c}),
      Plot.axisY(p.y, {anchor: "right", tickSize: st.tmaj, tickFormat: blank, ...c}),
      Plot.line(data, {x: "x", y: "y", stroke: colors[p.kind], strokeWidth: st.lw, strokeLinejoin: "round", strokeLinecap: "round"}),
      Plot.frame({stroke: "black", strokeWidth: st.fw})
    ]
  });
  svg.style.position = "absolute";
  svg.style.left = (l - mL) + "px";
  svg.style.top = (t - mT) + "px";
  svg.style.maxWidth = "none";
  root.appendChild(svg);
  const cx = (l + r) / 2, cy = (t + b) / 2;
  overlay += `<text x="${cx}" y="${p.xlb * S}" text-anchor="middle" font-size="${st.lab}">${xLabelText}</text>`;
  overlay += `<text transform="translate(${p.ylx * S},${cy}) rotate(-90)" text-anchor="middle" dy="0.36em" font-size="${st.lab}">${yLabels[p.kind]}</text>`;
  if (p.title) overlay += `<text x="${p.tx * S}" y="${p.tb * S}" text-anchor="middle" font-size="${st.title}">${p.title}</text>`;
}
const ov = document.createElementNS("http://www.w3.org/2000/svg", "svg");
ov.setAttribute("id", "overlay");
ov.setAttribute("width", 4096);
ov.setAttribute("height", 1824);
ov.setAttribute("font-family", FONT);
ov.setAttribute("fill", "black");
ov.innerHTML = overlay;
root.appendChild(ov);
</script>
</body></html>
